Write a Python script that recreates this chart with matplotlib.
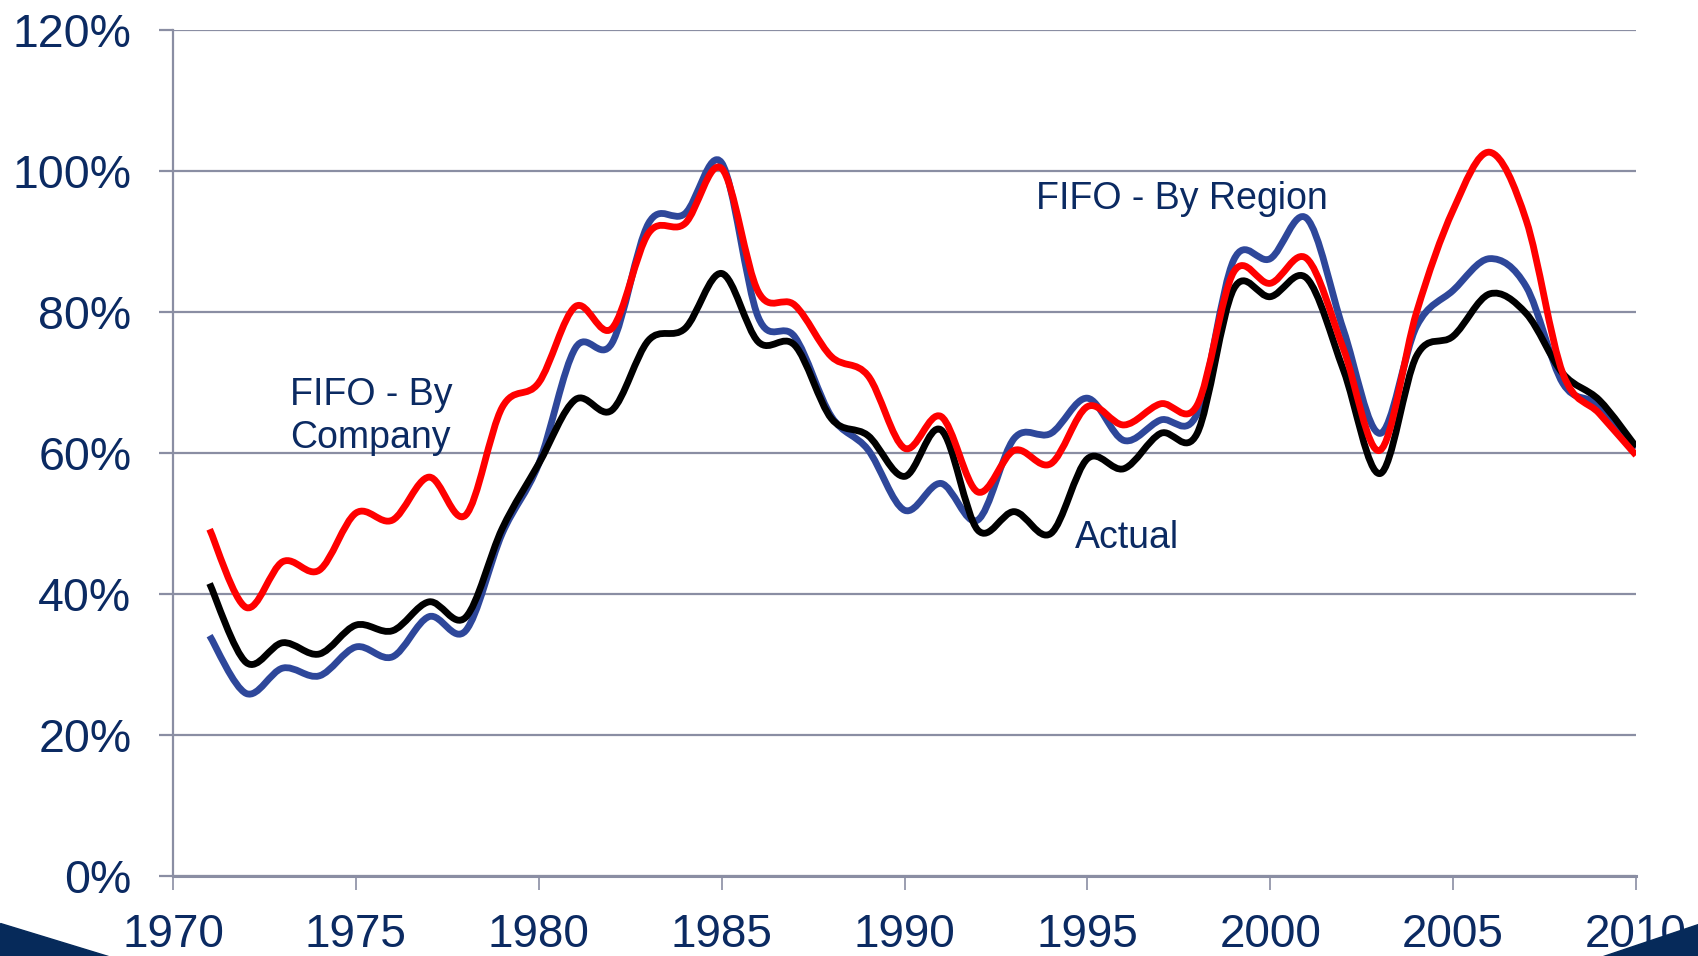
import numpy as np
import matplotlib
matplotlib.use('Agg')
import matplotlib.pyplot as plt
from matplotlib.path import Path
from matplotlib.patches import PathPatch, Polygon

# 데이터 (%)
years = list(range(1971, 2011))
fifo_company = [49.2, 38.1, 44.6, 43.4, 51.5, 50.5, 56.6, 51.2, 66.5, 70.0,
                80.8, 77.7, 91.2, 92.6, 100.4, 82.9, 81.0, 73.7, 71.0, 60.7,
                65.2, 54.5, 60.4, 58.5, 66.6, 64.0, 67.0, 66.8, 85.7, 84.1,
                87.6, 74.8, 60.4, 80.0, 94.5, 102.7, 93.0, 71.3, 65.6, 59.7]
fifo_region = [34.1, 25.9, 29.5, 28.4, 32.5, 31.1, 36.8, 34.8, 48.6, 58.5,
               74.9, 75.6, 92.6, 94.0, 101.2, 79.3, 76.5, 65.2, 60.5, 51.9,
               55.7, 50.5, 62.1, 62.8, 67.8, 61.8, 64.7, 65.6, 87.4, 87.6,
               93.3, 77.5, 62.8, 78.0, 83.1, 87.6, 83.6, 69.9, 66.8, 60.7]
actual = [41.5, 30.3, 33.1, 31.5, 35.6, 34.8, 38.9, 36.7, 49.3, 58.5,
          67.6, 66.1, 76.0, 77.7, 85.5, 75.8, 75.3, 64.9, 62.5, 56.7,
          63.3, 49.1, 51.7, 48.6, 59.2, 57.8, 62.8, 62.8, 83.3, 82.2,
          84.8, 71.8, 57.1, 73.8, 76.6, 82.6, 79.8, 71.3, 67.5, 60.9]
y_ticks = [0, 20, 40, 60, 80, 100, 120]
x_ticks = [1970, 1975, 1980, 1985, 1990, 1995, 2000, 2005, 2010]

NAVY = '#0b2a62'
GRID = '#8a8ea3'

plt.rcParams['font.family'] = ['Liberation Sans', 'DejaVu Sans']


def smooth_path(xs, ys):
    """엑셀 스타일의 부드러운 선 (베지어 곡선)"""
    p = np.column_stack([xs, ys]).astype(float)
    n = len(p)
    verts = [p[0]]
    codes = [Path.MOVETO]
    for i in range(n - 1):
        prev = p[i - 1] if i > 0 else p[i]
        nxt = p[i + 2] if i + 2 < n else p[i + 1]
        c1 = p[i] + (p[i + 1] - prev) / 6
        c2 = p[i + 1] - (nxt - p[i]) / 6
        verts += [c1, c2, p[i + 1]]
        codes += [Path.CURVE4] * 3
    return Path(verts, codes)


fig = plt.figure(figsize=(16.98, 9.56), dpi=100)
ax = fig.add_axes([0.1019, 0.0837, 0.8616, 0.8846])

for ys, color, z in [(fifo_region, '#2e479a', 3), (actual, 'black', 4), (fifo_company, '#ff0000', 5)]:
    patch = PathPatch(smooth_path(years, ys), facecolor='none', edgecolor=color,
                      lw=4.9, capstyle='butt', joinstyle='round', zorder=z)
    ax.add_patch(patch)

ax.set_xlim(1970, 2010)
ax.set_ylim(0, 120)
ax.set_xticks(x_ticks)
ax.set_yticks(y_ticks)
ax.set_yticklabels([f"{v}%" for v in y_ticks])
ax.grid(True, axis='y', color=GRID, lw=1.6)
ax.set_axisbelow(True)

for s in ['top', 'right']:
    ax.spines[s].set_visible(False)
ax.spines['left'].set_color(GRID)
ax.spines['left'].set_linewidth(1.6)
ax.spines['bottom'].set_color(GRID)
ax.spines['bottom'].set_linewidth(2.2)

ax.tick_params(axis='x', length=10, width=1.2, color=GRID, pad=17, labelsize=33, labelcolor=NAVY)
ax.tick_params(axis='y', length=10, width=1.6, color=GRID, pad=20, labelsize=33.5, labelcolor=NAVY)

# 라벨
ax.text(1973.2, 60.8, "FIFO - By\nCompany", fontsize=27, color=NAVY, ha='left', va='baseline', linespacing=1.25)
ax.text(1993.6, 94.7, "FIFO - By Region", fontsize=27, color=NAVY, ha='left', va='baseline')
ax.text(1994.65, 46.5, "Actual", fontsize=27, color=NAVY, ha='left', va='baseline')

# 슬라이드 모서리 장식
fig.add_artist(Polygon([(0, 0.0345), (0, 0), (0.0636, 0)], closed=True,
                       transform=fig.transFigure, color='#062a5a', zorder=10))
fig.add_artist(Polygon([(0.944, 0), (1, 0), (1, 0.0335)], closed=True,
                       transform=fig.transFigure, color='#062a5a', zorder=10))

plt.savefig("out.png", dpi=100)
plt.close()
